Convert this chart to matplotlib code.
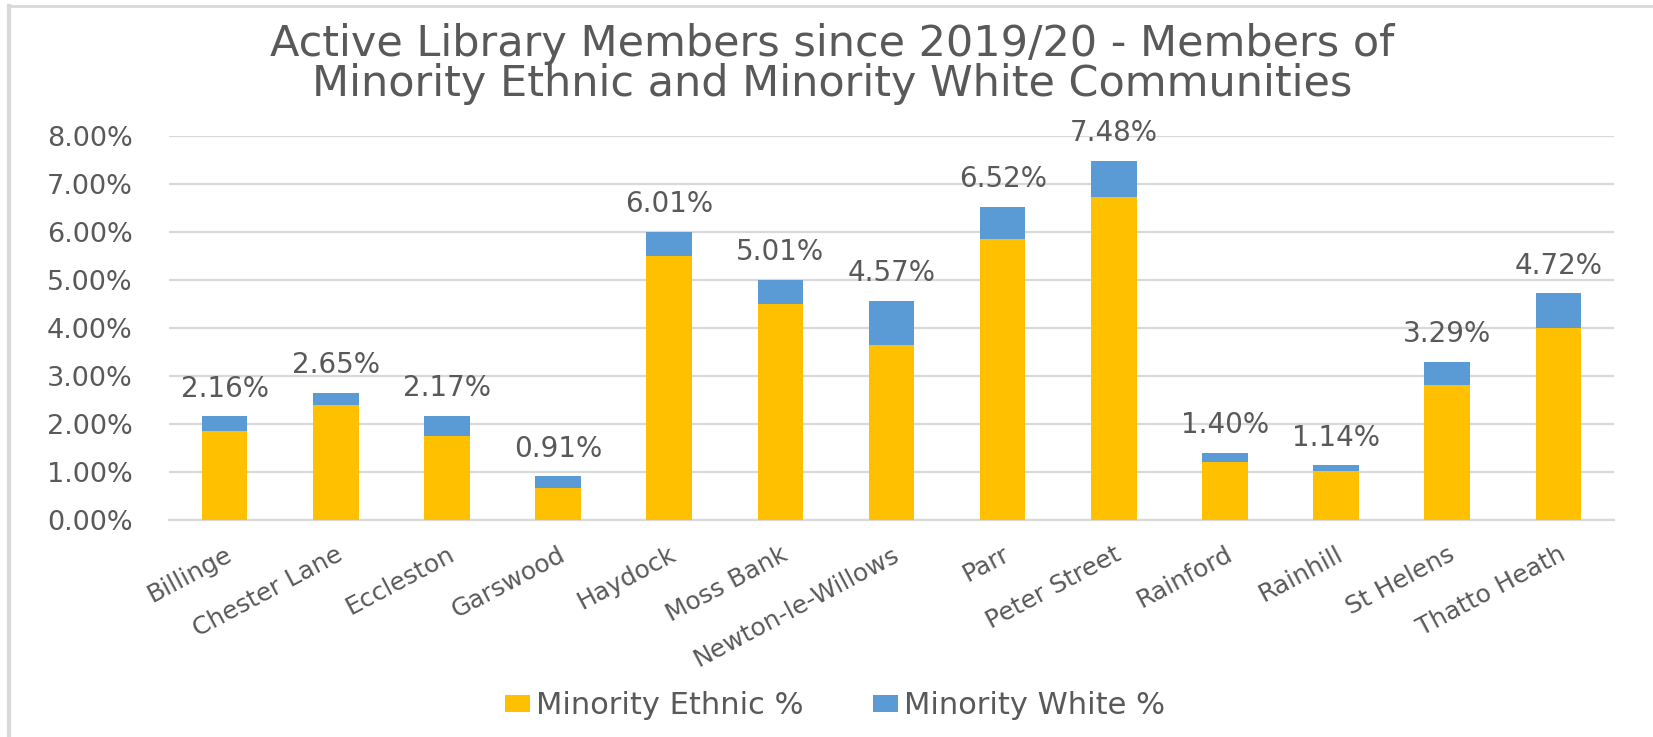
import matplotlib
matplotlib.use("Agg")
import matplotlib.pyplot as plt
from matplotlib.lines import Line2D
import numpy as np

categories = ["Billinge", "Chester Lane", "Eccleston", "Garswood", "Haydock", "Moss Bank",
              "Newton-le-Willows", "Parr", "Peter Street", "Rainford", "Rainhill",
              "St Helens", "Thatto Heath"]
totals = [2.16, 2.65, 2.17, 0.91, 6.01, 5.01, 4.57, 6.52, 7.48, 1.40, 1.14, 3.29, 4.72]
minority_ethnic = [1.85, 2.40, 1.76, 0.67, 5.51, 4.49, 3.65, 5.86, 6.72, 1.20, 1.03, 2.81, 3.99]
minority_white = [round(t - e, 2) for t, e in zip(totals, minority_ethnic)]
yticks = [0, 1, 2, 3, 4, 5, 6, 7, 8]

YELLOW = "#FFC000"
BLUE = "#5B9BD5"
TXT = "#595959"
GRID = "#D9D9D9"

plt.rcParams['font.family'] = ['DejaVu Sans']

W, H = 1653, 737
fig = plt.figure(figsize=(W / 100, H / 100), dpi=100)
ax = fig.add_axes([169 / W, 1 - 520 / H, (1614 - 169) / W, (520 - 136) / H])

x = np.arange(len(categories))
ax.bar(x, minority_ethnic, width=0.41, color=YELLOW, label="Minority Ethnic %", zorder=3)
ax.bar(x, minority_white, width=0.41, bottom=minority_ethnic, color=BLUE,
       label="Minority White %", zorder=3)

for xi, t in zip(x, totals):
    ax.annotate(f"{t:.2f}%", (xi, t), xytext=(0, 20), textcoords="offset points",
                ha="center", va="center", fontsize=20, color=TXT)

ax.set_xlim(-0.5, len(categories) - 0.5)
ax.set_ylim(0, 8)
ax.set_yticks(yticks)
ax.set_yticklabels([f"{v:.2f}%" for v in yticks], fontsize=19.5, color=TXT)
ax.tick_params(axis="y", length=0, pad=26)
ax.yaxis.grid(True, color=GRID, linewidth=1.6, zorder=0)
ax.set_axisbelow(True)

ax.set_xticks(x)
ax.set_xticklabels(categories, rotation=28, ha="right", va="top",
                   rotation_mode="anchor", fontsize=18, color=TXT)
ax.tick_params(axis="x", length=0, pad=16)

for s in ["top", "right", "left"]:
    ax.spines[s].set_visible(False)
ax.spines["bottom"].set_color(GRID)
ax.spines["bottom"].set_linewidth(1.6)

fig.text(832 / W, 1 - 56 / H, "Active Library Members since 2019/20 - Members of",
         ha="center", va="baseline", fontsize=31, color=TXT)
fig.text(832 / W, 1 - 96 / H, "Minority Ethnic and Minority White Communities",
         ha="center", va="baseline", fontsize=31, color=TXT)

fig.legend(loc="center", bbox_to_anchor=(835 / W, 1 - 706 / H), ncol=2, frameon=False,
           fontsize=22, labelcolor=TXT, handlelength=0.8, handleheight=0.5,
           handletextpad=0.2, columnspacing=2.3)

# chart frame (top and left edges)
fig.add_artist(Line2D([9 / W, 1], [1 - 6 / H, 1 - 6 / H], transform=fig.transFigure,
                      color=GRID, linewidth=2))
fig.add_artist(Line2D([9 / W, 9 / W], [0, 1 - 6 / H], transform=fig.transFigure,
                      color=GRID, linewidth=3))

fig.savefig("out.png", dpi=100, facecolor="white")
